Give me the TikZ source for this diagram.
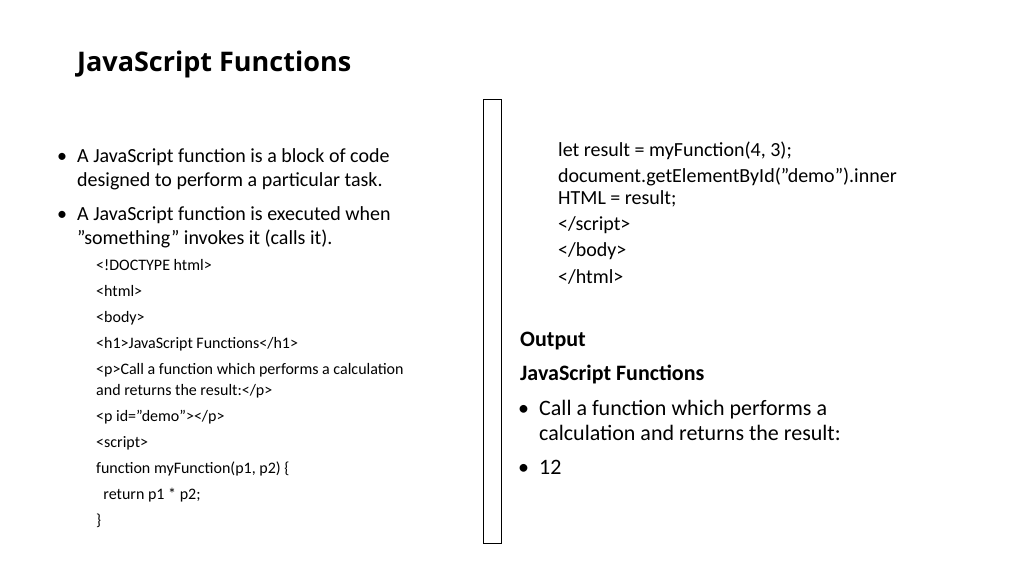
\documentclass[tikz,border=0pt]{standalone}
\usepackage{fontspec}
\setmainfont{Carlito}
\newfontfamily\titlefont{Open Sans}
\begin{document}
\begin{tikzpicture}[x=1pt,y=-1pt,
  txt/.style={anchor=base west,inner sep=0pt,font=\fontsize{20}{24}\selectfont},
  code/.style={anchor=base west,inner sep=0pt,font=\fontsize{16}{19}\selectfont},
  bul/.style={anchor=base west,inner sep=0pt,font=\fontsize{20}{24}\selectfont}]
\useasboundingbox[fill=white] (0,0) rectangle (1024,575);
\node[anchor=base west,inner sep=0pt,font=\titlefont\bfseries\fontsize{27}{32}\selectfont] (title) at (77,72) {JavaScript Functions};
% left bullets
\node[bul] (b1) at (57,162) {•};
\node[txt] (l1) at (77,162) {A JavaScript function is a block of code};
\node[txt] (l2) at (77,186) {designed to perform a particular task.};
\node[bul] (b2) at (57,220) {•};
\node[txt] (l3) at (77,220) {A JavaScript function is executed when};
\node[txt] (l4) at (77,244) {"something" invokes it (calls it).};
\node[code] (c1) at (96,270) {<!DOCTYPE html>};
\node[code] (c2) at (96,296) {<html>};
\node[code] (c3) at (96,322) {<body>};
\node[code] (c4) at (96,348) {<h1>JavaScript Functions</h1>};
\node[code] (c5) at (96,374) {<p>Call a function which performs a calculation};
\node[code] (c6) at (96,395) {and returns the result:</p>};
\node[code] (c7) at (96,421) {<p id="demo"></p>};
\node[code] (c8) at (96,447) {<script>};
\node[code] (c9) at (96,473) {function myFunction(p1, p2) \{};
\node[code] (c10) at (96,499) {\ \ return p1 * p2;};
\node[code] (c11) at (96,525) {\}};
% divider
\node[draw=black,line width=1pt,minimum width=18pt,minimum height=443pt,inner sep=0pt] (bar) at (492,321.5) {};
% right code
\node[txt] (r1) at (558,156) {let result = myFunction(4, 3);};
\node[txt] (r2) at (558,182) {document.getElementById("demo").inner};
\node[txt] (r3) at (558,204) {HTML = result;};
\node[txt] (r4) at (558,230) {</script>};
\node[txt] (r5) at (558,256) {</body>};
\node[txt] (r6) at (558,283) {</html>};
\node[anchor=base west,inner sep=0pt,font=\bfseries\fontsize{22}{26}\selectfont] (o1) at (520,346) {Output};
\node[anchor=base west,inner sep=0pt,font=\bfseries\fontsize{22}{26}\selectfont] (o2) at (520,380) {JavaScript Functions};
\node[bul,font=\fontsize{22}{26}\selectfont] (b3) at (518,415) {•};
\node[txt,font=\fontsize{22}{26}\selectfont] (o3) at (539,415) {Call a function which performs a};
\node[txt,font=\fontsize{22}{26}\selectfont] (o4) at (539,440) {calculation and returns the result:};
\node[bul,font=\fontsize{22}{26}\selectfont] (b4) at (518,474) {•};
\node[txt,font=\fontsize{22}{26}\selectfont] (o5) at (539,474) {12};
\end{tikzpicture}
\end{document}
